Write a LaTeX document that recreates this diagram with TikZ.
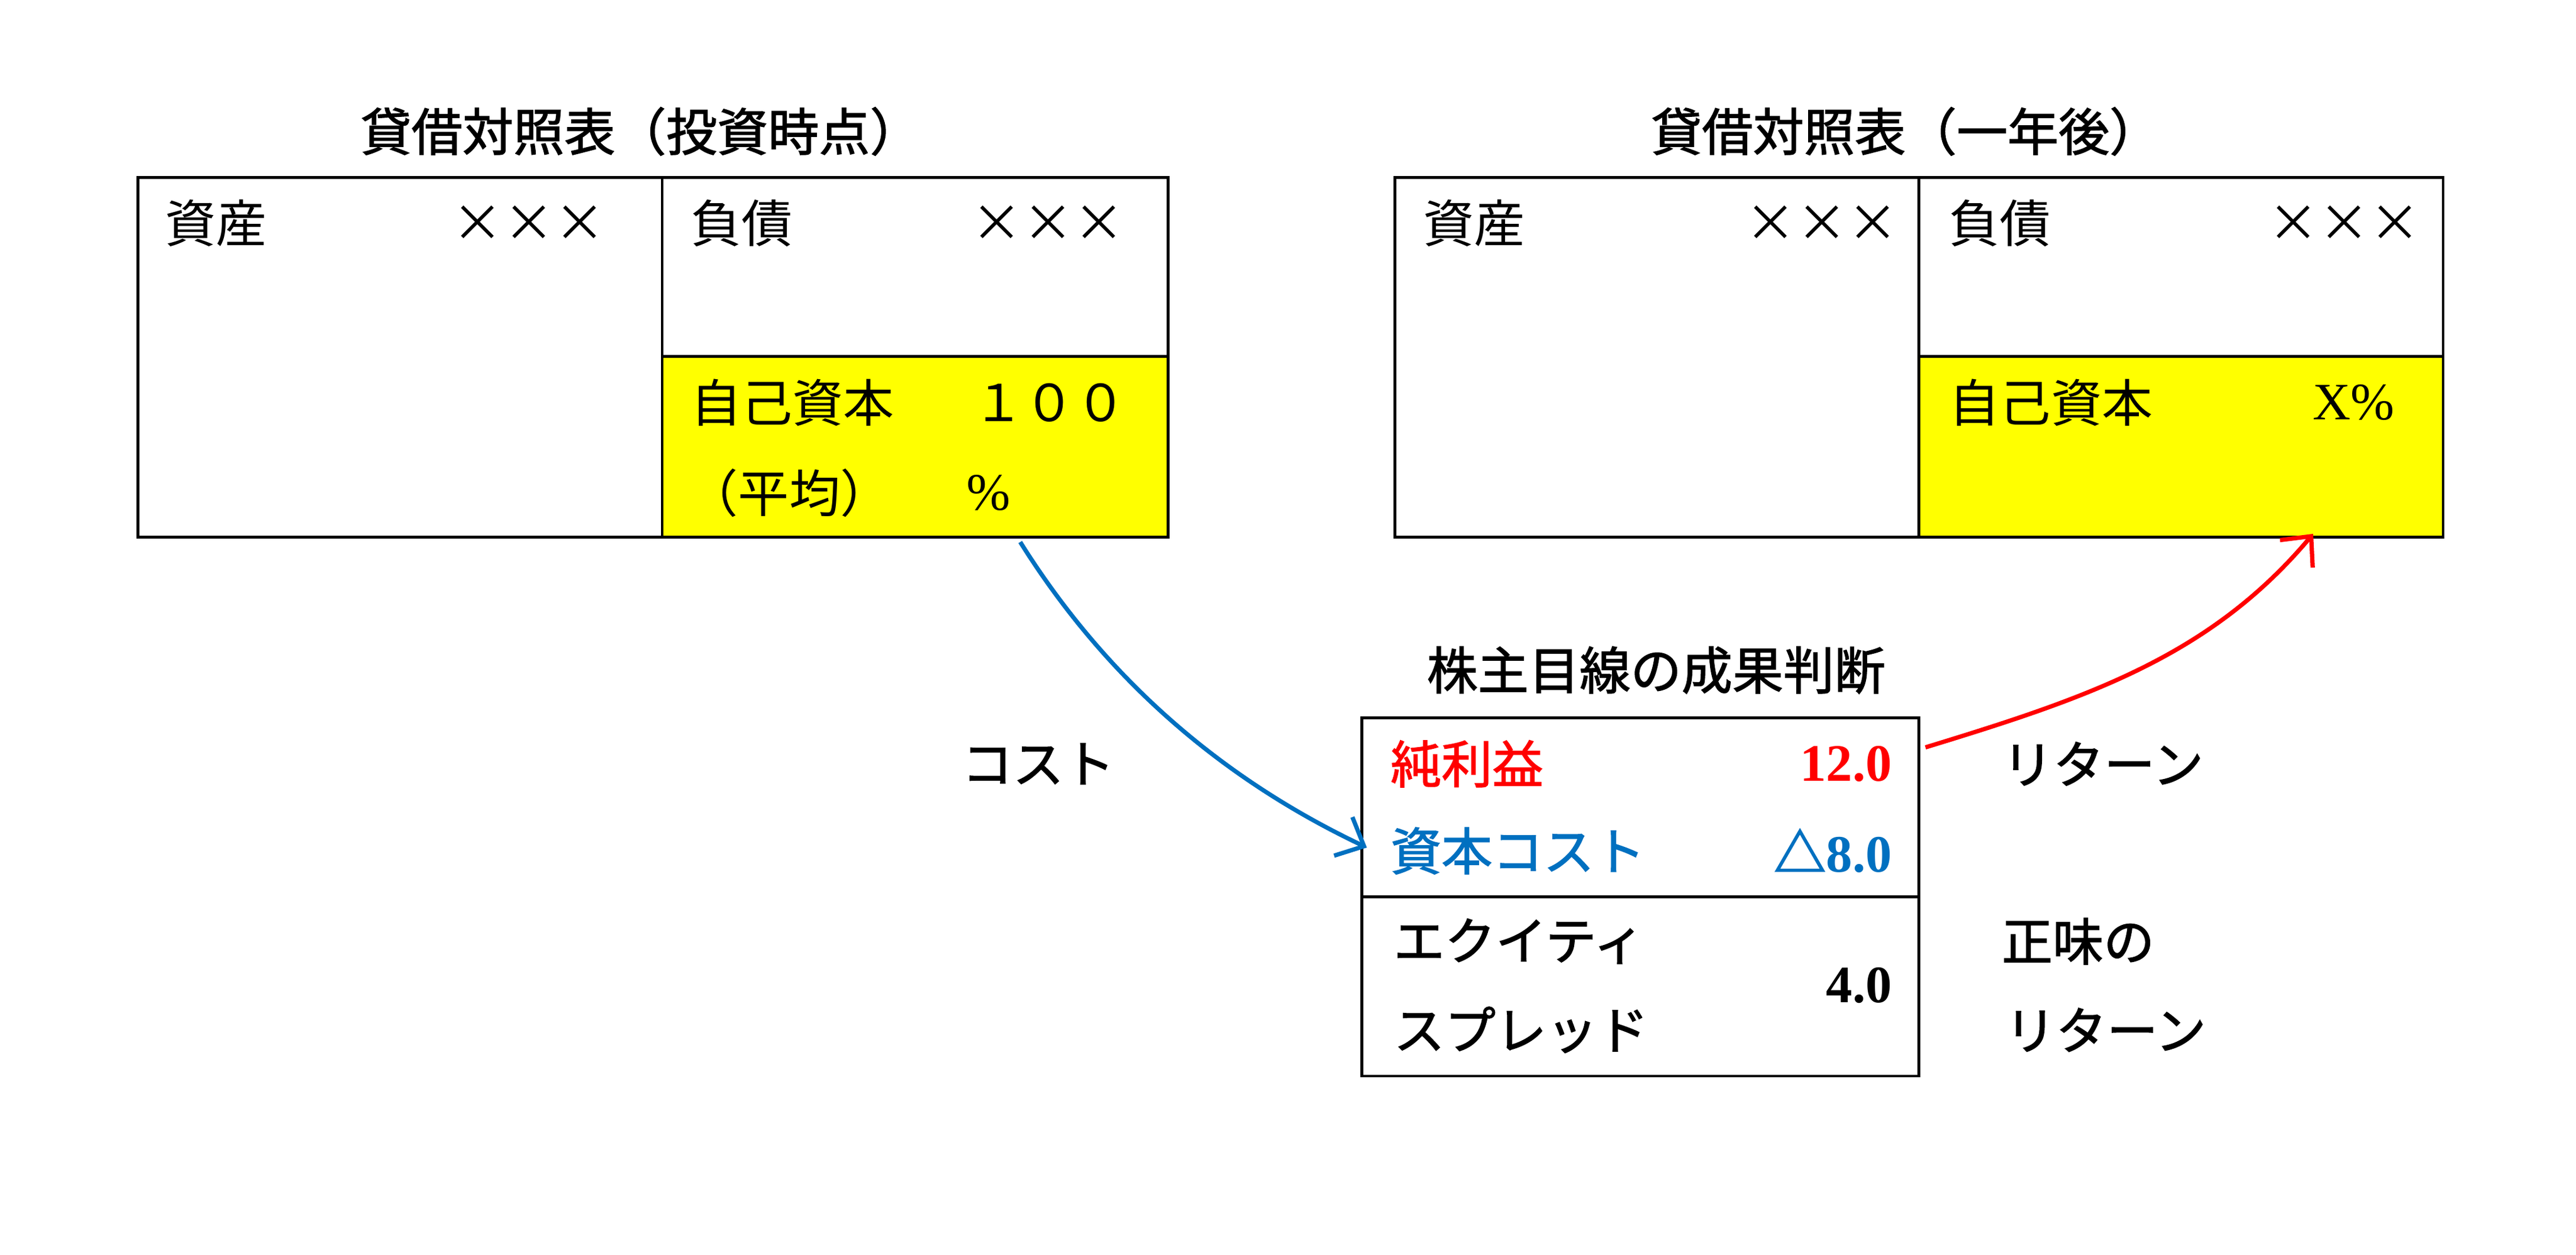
\documentclass[tikz,border=0pt]{standalone}
\usepackage{fontspec}
\setmainfont{Liberation Serif}
\newfontfamily\jp{Noto Sans CJK JP}
\newfontfamily\jpb{Noto Sans CJK JP}[FakeBold=1.6]
\usetikzlibrary{arrows.meta}
\definecolor{exblue}{RGB}{0,112,192}
\definecolor{exyellow}{RGB}{255,255,0}
\newcommand\fwc[1]{\makebox[1em]{#1}}
\begin{document}
\begin{tikzpicture}[x=0.5pt,y=-0.5pt,
  cell/.style={draw=black,line width=0.8pt,inner sep=0pt,outer sep=0pt,anchor=north west},
  eq/.style={cell,fill=exyellow},
  jt/.style={inner sep=0pt,anchor=west,font=\jp\fontsize{15.5}{18}\selectfont},
  jb/.style={inner sep=0pt,anchor=west,font=\jpb\fontsize{15.5}{18}\selectfont},
  jc/.style={inner sep=0pt,font=\jpb\fontsize{15.5}{18}\selectfont},
  nt/.style={inner sep=0pt,anchor=east,font=\fontsize{16}{18}\selectfont},
  nb/.style={inner sep=0pt,anchor=east,font=\bfseries\fontsize{16}{18}\selectfont},
  conn/.style={line width=1.3pt,-{Straight Barb[length=7pt,width=13pt,line width=1.3pt]}}]
\useasboundingbox (0,0) rectangle (1568,763.7);
% left balance sheet
\node[jc] (t1) at (390,80) {貸借対照表（投資時点）};
\node[cell,minimum width=159.5pt,minimum height=109.5pt] (LA) at (84,108) {};
\node[cell,minimum width=154pt,minimum height=54.5pt] (LD) at (403,108) {};
\node[eq,minimum width=154pt,minimum height=55pt] (LE) at (403,217) {};
\node[jt] (la1) at (100,136) {資産};
\node[jt] (la2) at (275,136) {\fwc{×}\fwc{×}\fwc{×}};
\node[jt] (ld1) at (420,136) {負債};
\node[jt] (ld2) at (591,136) {\fwc{×}\fwc{×}\fwc{×}};
\node[jt] (le1) at (420,245) {自己資本};
\node[jt] (le2) at (592,245) {１００};
\node[jt] (le3) at (418,300) {（平均）};
\node[inner sep=0pt,anchor=west,font=\fontsize{16}{18}\selectfont] (le4) at (588,300) {\%};
% right balance sheet
\node[jc] (t2) at (1160,80) {貸借対照表（一年後）};
\node[cell,minimum width=159.5pt,minimum height=109.5pt] (RA) at (849,108) {};
\node[cell,minimum width=159.5pt,minimum height=54.5pt] (RD) at (1168,108) {};
\node[eq,minimum width=159.5pt,minimum height=55pt] (RE) at (1168,217) {};
\node[jt] (ra1) at (866,136) {資産};
\node[jt] (ra2) at (1062,136) {\fwc{×}\fwc{×}\fwc{×}};
\node[jt] (rd1) at (1186,136) {負債};
\node[jt] (rd2) at (1380,136) {\fwc{×}\fwc{×}\fwc{×}};
\node[jt] (re1) at (1186,245) {自己資本};
\node[nt] (re2) at (1458,245) {X\%};
% center box
\node[jc] (t3) at (1008,408) {株主目線の成果判断};
\node[cell,minimum width=169.5pt,minimum height=54.5pt] (CT) at (829,437) {};
\node[cell,minimum width=169.5pt,minimum height=54.5pt] (CB) at (829,546) {};
\node[jb,text=red] (c1) at (846,465) {純利益};
\node[nb,text=red] (c2) at (1152,465) {12.0};
\node[jb,text=exblue] (c3) at (846,518) {資本コスト};
\node[nb,text=exblue] (c4) at (1152,518) {{\jpb △}8.0};
\node[jb] (c5) at (848,573) {エクイティ};
\node[jb] (c6) at (848,627) {スプレッド};
\node[nb] (c7) at (1152,600) {4.0};
% side labels
\node[jc] (k1) at (632,465) {コスト};
\node[jc] (k2) at (1280,465) {リターン};
\node[jb] (k3) at (1218,573) {正味の};
\node[jb] (k4) at (1220,627) {リターン};
% connectors
\coordinate (bs) at (621,330);
\coordinate (be) at (832,516);
\coordinate (rs) at (1172,455);
\coordinate (re) at (1408,325);
\draw[conn,exblue] (bs) .. controls (668,405) and (735,470) .. (be);
\draw[conn,red] (rs) .. controls (1270,425) and (1345,400) .. (re);
\end{tikzpicture}
\end{document}
